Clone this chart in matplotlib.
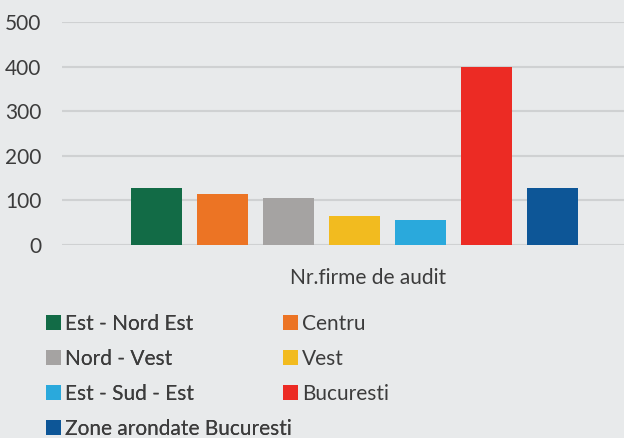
import matplotlib
matplotlib.use("Agg")
import matplotlib.pyplot as plt
from matplotlib.patches import Patch

series = ["Est - Nord Est", "Centru", "Nord - Vest", "Vest", "Est - Sud - Est",
          "Bucuresti", "Zone arondate Bucuresti"]
values = [128, 115, 106, 66, 55, 400, 128]
colors = ["#126b46", "#ec7424", "#a5a3a2", "#f2bb1f", "#2aa9dc", "#ec2b24", "#0d5697"]
category = "Nr.firme de audit"
yticks = [0, 100, 200, 300, 400, 500]

bg = "#e8eaeb"
txt = "#3c3c3c"
plt.rcParams['font.family'] = ['Lato', 'DejaVu Sans']
FS = 15

fig = plt.figure(figsize=(6.24, 4.38), dpi=100, facecolor=bg)
ax = fig.add_axes([62/624, 1-245/438, 1-62/624, (245-22)/438])
ax.set_facecolor(bg)

xs = list(range(len(values)))
ax.bar(xs, values, width=0.77, color=colors, zorder=3)

ax.set_ylim(0, 500)
ax.set_xlim(-1.43, 7.08)
ax.set_yticks(yticks)
ax.set_yticklabels([str(t) for t in yticks], fontsize=FS, color=txt)
ax.set_xticks([])
ax.tick_params(axis='y', length=0, pad=15)
for s in ax.spines.values():
    s.set_visible(False)
ax.grid(axis='y', color='#cfd1d2', linewidth=1.5, zorder=0)

fig.text(368/624, 1-278/438, category, ha='center', va='center', fontsize=FS, color=txt)

handles = [Patch(facecolor=c, edgecolor='none') for c in colors]
kw = dict(loc='upper left', frameon=False, fontsize=FS, labelcolor=txt,
          handlelength=0.7, handleheight=0.7, handletextpad=0.2,
          labelspacing=0.72, borderpad=0, borderaxespad=0)
col1 = [0, 2, 4, 6]
col2 = [1, 3, 5]
leg1 = fig.legend([handles[i] for i in col1], [series[i] for i in col1],
                  bbox_to_anchor=(46/624, 1-314/438), **kw)
fig.add_artist(leg1)
leg2 = fig.legend([handles[i] for i in col2], [series[i] for i in col2],
                  bbox_to_anchor=(283/624, 1-314/438), **kw)

fig.savefig("out.png", dpi=100, facecolor=bg)
